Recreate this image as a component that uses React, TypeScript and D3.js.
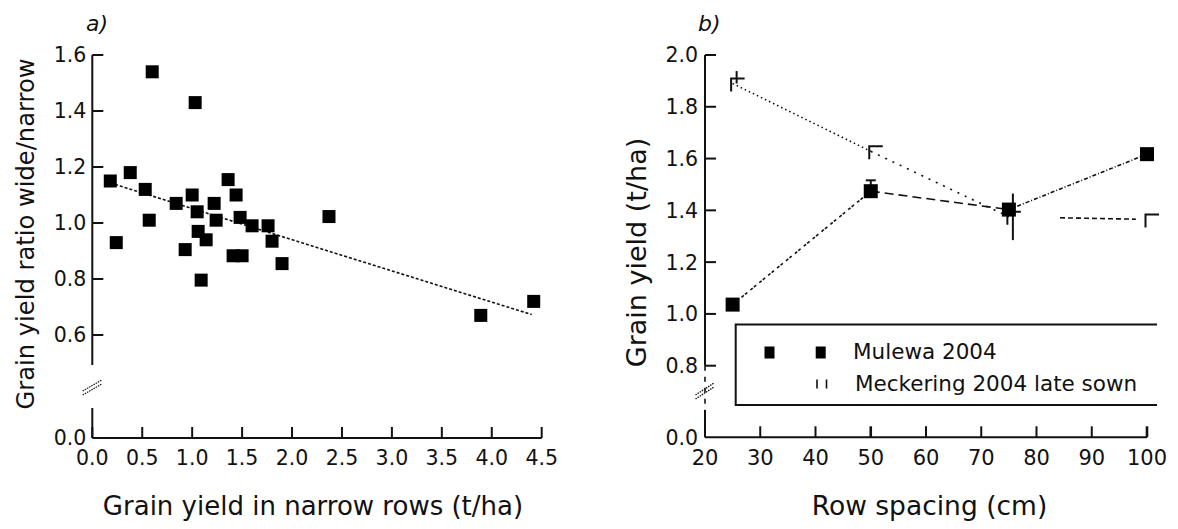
import React from 'react';
import * as d3 from 'd3';

// ---- Panel a data ----
const ratioX = [0.18, 0.38, 0.53, 0.57, 0.24, 0.84, 1.0, 1.05, 1.22, 1.24, 1.36, 1.44, 1.48, 1.6, 1.76, 1.8, 1.06, 1.14, 0.93, 1.41, 1.5, 1.9, 1.09, 2.37, 0.6, 1.03, 3.89, 4.42];
const ratioY = [1.15, 1.18, 1.12, 1.01, 0.93, 1.07, 1.1, 1.04, 1.07, 1.01, 1.155, 1.1, 1.02, 0.99, 0.99, 0.935, 0.97, 0.94, 0.905, 0.883, 0.883, 0.855, 0.796, 1.023, 1.54, 1.43, 0.67, 0.72];
const trendX = [0.18, 4.4];
const trendY = [1.143, 0.673];
const ticksAX = [0, 0.5, 1.0, 1.5, 2.0, 2.5, 3.0, 3.5, 4.0, 4.5];
const ticksAY = [0.6, 0.8, 1.0, 1.2, 1.4, 1.6];

// ---- Panel b data ----
const spacing = [25, 50, 75, 100];
const mulewa = [1.036, 1.474, 1.403, 1.617];
const mulewaErrUp = [0, 0.042, 0, 0];
const meckering = [1.89, 1.628, 1.375, 1.365];
const meckeringErrUp = [0.048, 0, 0.09, 0];
const meckeringErrDown = [0, 0, 0.09, 0];
const ticksBX = [20, 30, 40, 50, 60, 70, 80, 90, 100];
const ticksBY = [0.8, 1.0, 1.2, 1.4, 1.6, 1.8, 2.0];
const mulewaDash = ['3,1.5,3,4', '9,5', '4,2,1,2'];
const meckDash = ['1.5,3', '2,6', '5,3'];
const meckVisible = [[0, 1], [0, 1], [0.37, 0.92]];

const FONT = 'DejaVu Sans, sans-serif';
const INK = '#111';

function fmt(v: number) {
  return d3.format('.1f')(v);
}

export default function App() {
  // Panel a scales
  const xA = d3.scaleLinear().domain([0, 4.5]).range([92.3, 541.7]);
  const yAUp = d3.scaleLinear().domain([0.6, 1.6]).range([335, 55]);
  const yALow = d3.scaleLinear().domain([0, 0.1]).range([438, 408]);
  const upperEndA = 365;

  // Panel b scales
  const xB = d3.scaleLinear().domain([20, 100]).range([705, 1147]);
  const yBUp = d3.scaleLinear().domain([0.8, 2.0]).range([365.7, 55]);
  const yBLow = d3.scaleLinear().domain([0, 0.1]).range([437.3, 410]);

  const sq = 13;
  const line = d3.line<[number, number]>().x((d) => d[0]).y((d) => d[1]);

  const ptsA = ratioX.map((x, i) => [xA(x), yAUp(ratioY[i])] as [number, number]);
  const trend = trendX.map((x, i) => [xA(x), yAUp(trendY[i])] as [number, number]);

  const mulPts = spacing.map((s, i) => [xB(s), yBUp(mulewa[i])] as [number, number]);
  const mekPts = spacing.map((s, i) => [xB(s), yBUp(meckering[i])] as [number, number]);

  const seg = (pts: [number, number][], i: number, t0 = 0, t1 = 1): [number, number][] => {
    const a = pts[i];
    const b = pts[i + 1];
    const ia = d3.interpolateNumber(a[0], b[0]);
    const ib = d3.interpolateNumber(a[1], b[1]);
    return [[ia(t0), ib(t0)], [ia(t1), ib(t1)]];
  };

  const tickLen = 11;

  return (
    <div style={{ position: 'fixed', left: 0, top: 0 }}>
      <svg width={1178} height={529} style={{ display: 'block', background: '#fff' }} fontFamily={FONT}>
        {/* ================= Panel a ================= */}
        <text x={86} y={31} fontSize={22} fontStyle="italic" fill={INK}>a)</text>
        {/* y axis upper */}
        <line x1={xA(0)} x2={xA(0)} y1={yAUp(1.6)} y2={upperEndA} stroke={INK} strokeWidth={2} />
        {ticksAY.map((t) => (
          <g key={'ay' + t}>
            <line x1={xA(0)} x2={xA(0) + tickLen} y1={yAUp(t)} y2={yAUp(t)} stroke={INK} strokeWidth={2} />
            <text x={xA(0) - 6} y={yAUp(t)} dy="0.36em" textAnchor="end" fontSize={20.5} fill={INK}>{fmt(t)}</text>
          </g>
        ))}
        {/* break marks */}
        <line x1={82.7} y1={391} x2={101.7} y2={380} stroke={INK} strokeWidth={1.3} strokeDasharray="1.5,1" />
        <line x1={82.7} y1={395} x2={101.7} y2={384} stroke={INK} strokeWidth={1.3} strokeDasharray="1.5,1" />
        {/* y axis lower */}
        <line x1={xA(0)} x2={xA(0)} y1={yALow(0)} y2={yALow(0.1)} stroke={INK} strokeWidth={2} />
        <text x={xA(0) - 6} y={yALow(0)} dy="0.36em" textAnchor="end" fontSize={20.5} fill={INK}>0.0</text>
        {/* x axis */}
        <line x1={xA(0)} x2={xA(4.5)} y1={yALow(0)} y2={yALow(0)} stroke={INK} strokeWidth={2} />
        {ticksAX.map((t) => (
          <g key={'ax' + t}>
            <line x1={xA(t)} x2={xA(t)} y1={yALow(0)} y2={yALow(0) - tickLen} stroke={INK} strokeWidth={2} />
            <text x={xA(t)} y={465} textAnchor="middle" fontSize={20.5} fill={INK}>{fmt(t)}</text>
          </g>
        ))}
        {/* trend */}
        <path d={line(trend) || ''} fill="none" stroke={INK} strokeWidth={1.6} strokeDasharray="3,2" />
        {/* points */}
        {ptsA.map((p, i) => (
          <rect key={'pa' + i} x={p[0] - sq / 2} y={p[1] - sq / 2} width={sq} height={sq} fill="#000" />
        ))}
        {/* titles */}
        <text x={313} y={515} textAnchor="middle" fontSize={26} fill={INK}>Grain yield in narrow rows (t/ha)</text>
        <text transform="translate(25,234) rotate(-90)" dy="0.36em" textAnchor="middle" fontSize={24.2} fill={INK}>Grain yield ratio wide/narrow</text>

        {/* ================= Panel b ================= */}
        <text x={698} y={31} fontSize={22} fontStyle="italic" fill={INK}>b)</text>
        <line x1={xB(20)} x2={xB(20)} y1={yBUp(2.0)} y2={yBUp(0.8)} stroke={INK} strokeWidth={2} />
        {ticksBY.map((t) => (
          <g key={'by' + t}>
            <line x1={xB(20)} x2={xB(20) + tickLen} y1={yBUp(t)} y2={yBUp(t)} stroke={INK} strokeWidth={2} />
            <text x={xB(20) - 7} y={yBUp(t)} dy="0.36em" textAnchor="end" fontSize={20.5} fill={INK}>{fmt(t)}</text>
          </g>
        ))}
        <line x1={xB(20)} x2={xB(20)} y1={yBUp(0.8)} y2={yBLow(0.1)} stroke={INK} strokeWidth={1.6} strokeDasharray="5,6" />
        <line x1={695.5} y1={395} x2={714} y2={383} stroke={INK} strokeWidth={1.3} strokeDasharray="1.5,1" />
        <line x1={695.5} y1={399} x2={714} y2={387} stroke={INK} strokeWidth={1.3} strokeDasharray="1.5,1" />
        <line x1={xB(20)} x2={xB(20)} y1={yBLow(0)} y2={yBLow(0.1)} stroke={INK} strokeWidth={2} />
        <text x={xB(20) - 7} y={yBLow(0)} dy="0.36em" textAnchor="end" fontSize={20.5} fill={INK}>0.0</text>
        <line x1={xB(20)} x2={xB(100)} y1={yBLow(0)} y2={yBLow(0)} stroke={INK} strokeWidth={2} />
        {ticksBX.map((t) => (
          <g key={'bx' + t}>
            <line x1={xB(t)} x2={xB(t)} y1={yBLow(0)} y2={yBLow(0) - tickLen} stroke={INK} strokeWidth={t % 50 === 0 ? 2.6 : 2} />
            <text x={xB(t)} y={465} textAnchor="middle" fontSize={21} fill={INK}>{t}</text>
          </g>
        ))}

        {/* Meckering lines */}
        {meckDash.map((dash, i) => (
          <path key={'mkl' + i} d={line(seg(mekPts, i, meckVisible[i][0], meckVisible[i][1])) || ''} fill="none" stroke={INK} strokeWidth={1.6} strokeDasharray={dash} />
        ))}
        {/* Mulewa lines */}
        {mulewaDash.map((dash, i) => (
          <path key={'mul' + i} d={line(seg(mulPts, i)) || ''} fill="none" stroke={INK} strokeWidth={1.6} strokeDasharray={dash} />
        ))}
        {/* Meckering error bars and markers */}
        {mekPts.map((p, i) => (
          <g key={'mk' + i}>
            {meckeringErrUp[i] + meckeringErrDown[i] > 0 && (
              <line x1={p[0] + 4} x2={p[0] + 4} y1={yBUp(meckering[i] + meckeringErrUp[i])} y2={yBUp(meckering[i] - meckeringErrDown[i])} stroke={INK} strokeWidth={2} />
            )}
            <path d={`M${p[0] - 1.5},${p[1] + 8}V${p[1] - 5}H${p[0] + 12}`} fill="none" stroke={INK} strokeWidth={2} />
          </g>
        ))}
        {/* Mulewa error bars and markers */}
        {mulPts.map((p, i) => (
          <g key={'mu' + i}>
            {mulewaErrUp[i] > 0 && (
              <g>
                <line x1={p[0]} x2={p[0]} y1={p[1]} y2={yBUp(mulewa[i] + mulewaErrUp[i])} stroke={INK} strokeWidth={2} />
                <line x1={p[0] - 5} x2={p[0] + 5} y1={yBUp(mulewa[i] + mulewaErrUp[i])} y2={yBUp(mulewa[i] + mulewaErrUp[i])} stroke={INK} strokeWidth={2} />
              </g>
            )}
            <rect x={p[0] - 7} y={p[1] - 7} width={14} height={14} fill="#000" />
          </g>
        ))}

        {/* Legend */}
        <path d="M1157,324.5H735.7V405H1157" fill="#fff" stroke={INK} strokeWidth={2} />
        <rect x={764.5} y={346.5} width={10} height={12} fill="#000" />
        <rect x={815.7} y={346.5} width={10} height={12} fill="#000" />
        <text x={853} y={359} fontSize={21.5} fill={INK}>Mulewa 2004</text>
        <line x1={817} x2={817} y1={379.5} y2={388.5} stroke={INK} strokeWidth={1.6} />
        <line x1={826.5} x2={826.5} y1={379.5} y2={388.5} stroke={INK} strokeWidth={1.6} />
        <text x={855} y={391} fontSize={21.5} fill={INK}>Meckering 2004 late sown</text>

        <text x={929.5} y={515} textAnchor="middle" fontSize={26.5} fill={INK}>Row spacing (cm)</text>
        <text transform="translate(636.7,252.5) rotate(-90)" dy="0.36em" textAnchor="middle" fontSize={27} fill={INK}>Grain yield (t/ha)</text>
      </svg>
    </div>
  );
}
